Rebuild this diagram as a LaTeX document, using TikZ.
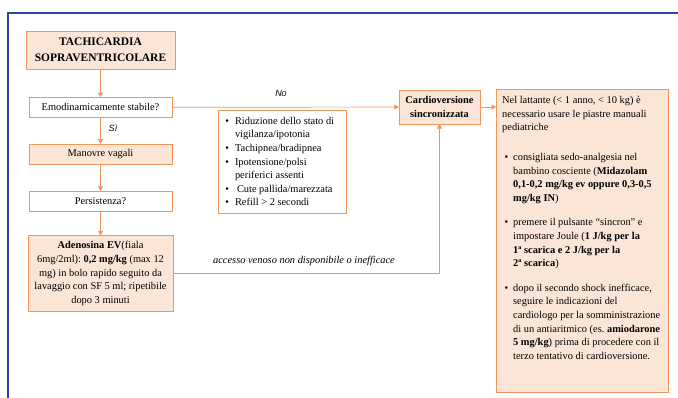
\documentclass[tikz,border=0pt]{standalone}
\usepackage{fontspec}
\setmainfont{Liberation Serif}
\newfontfamily\labelsans{Liberation Sans}
\usepackage{enumitem}
\usetikzlibrary{arrows.meta,positioning}

\definecolor{boxline}{RGB}{240,150,90}
\definecolor{boxfill}{RGB}{251,229,214}
\definecolor{framecol}{RGB}{45,70,160}
\newcommand{\bodysize}{\fontsize{10.4}{13.6}\selectfont}
\frenchspacing

\begin{document}
\begin{tikzpicture}[
  x=1pt, y=-1pt,
  node distance=26pt,
  plain/.style={rectangle, draw=boxline, fill=white, align=center, minimum width=143pt, minimum height=20pt, inner sep=2pt, font=\bodysize},
  shaded/.style={plain, fill=boxfill},
  arrow/.style={draw=boxline, -{Triangle[length=4.5pt,width=5pt]}, line width=0.7pt},
  branch/.style={font=\labelsans\itshape\fontsize{9}{11}\selectfont}
]
  \useasboundingbox (0,0) rectangle (678,398);
  \clip (0,0) rectangle (678,398);
  \draw[framecol, line width=2.5pt] (8,410) -- (8,13) -- (690,13);

  % left column
  \node[shaded, minimum width=149pt, minimum height=38pt, font=\bfseries\fontsize{11.5}{16.5}\selectfont] (title) at (100.5,50) {TACHICARDIA\\SOPRAVENTRICOLARE};
  \node[plain, below=28pt of title] (stable) {Emodinamicamente stabile?};
  \node[shaded, below=of stable] (vagal) {Manovre vagali};
  \node[plain, below=27pt of vagal] (persist) {Persistenza?};
  \node[shaded, below=24pt of persist, minimum width=145pt, minimum height=76pt] (adeno) {\textbf{Adenosina EV}(fiala\\6mg/2ml): \textbf{0,2 mg/kg} (max 12\\mg) in bolo rapido seguito da\\lavaggio con SF 5 ml; ripetibile\\dopo 3 minuti};

  % signs of instability
  \node[plain, minimum width=128pt, minimum height=103pt, inner xsep=5pt, align=left] (signs) at (282,161.5) {%
    \begin{minipage}{118pt}\raggedright
    \begin{itemize}[leftmargin=12pt, labelsep=6pt, itemsep=0pt, topsep=0pt, parsep=0pt]
      \item Riduzione dello stato di\\vigilanza/ipotonia
      \item Tachipnea/bradipnea
      \item Ipotensione/polsi\\periferici assenti
      \item \hspace{2pt}Cute pallida/marezzata
      \item Refill > 2 secondi
    \end{itemize}
    \end{minipage}};

  % cardioversion
  \node[shaded, minimum width=81pt, minimum height=34pt, font=\bodysize\bfseries] (cardio) at (439.5,107) {Cardioversione\\sincronizzata};
  \node[shaded, anchor=north west, inner xsep=3pt, inner ysep=5pt, align=left] (rbox) at (496,89) {%
    \begin{minipage}[t][293pt][t]{166pt}\raggedright
    {\leftskip=3pt\strut Nel lattante (< 1 anno, < 10 kg) è\\necessario usare le piastre manuali\\pediatriche\par}
    \begin{itemize}[leftmargin=14pt, labelsep=5pt, itemsep=11pt, topsep=14pt, parsep=0pt]
      \item consigliata sedo-analgesia nel\\bambino cosciente (\textbf{Midazolam}\\\textbf{0,1-0,2 mg/kg ev oppure 0,3-0,5}\\\textbf{mg/kg IN})
      \item premere il pulsante “sincron” e\\impostare Joule (\textbf{1 J/kg per la}\\\textbf{1ª scarica e 2 J/kg per la}\\\textbf{2ª scarica})
      \item dopo il secondo shock inefficace,\\seguire le indicazioni del\\cardiologo per la somministrazione\\di un antiaritmico (es. \textbf{amiodarone}\\\textbf{5 mg/kg}) prima di procedere con il\\terzo tentativo di cardioversione.
    \end{itemize}
    \end{minipage}};

  % labels
  \node[branch] (nolabel) at (281,93) {No};
  \node[branch] (silabel) at (113,128) {Sì};
  \node[font=\bodysize\itshape] (ivlabel) at (304,261) {accesso venoso non disponibile o inefficace};

  \draw[arrow] (title) -- (stable);
  \draw[arrow] (stable) -- (vagal);
  \draw[arrow] (vagal) -- (persist);
  \draw[arrow] (persist) -- (adeno);
  \draw[arrow] (stable) -- (cardio);
  \draw[arrow] (adeno) -| (cardio);
  \draw[arrow] (cardio.east) -- (cardio.east -| rbox.west);
\end{tikzpicture}
\end{document}
